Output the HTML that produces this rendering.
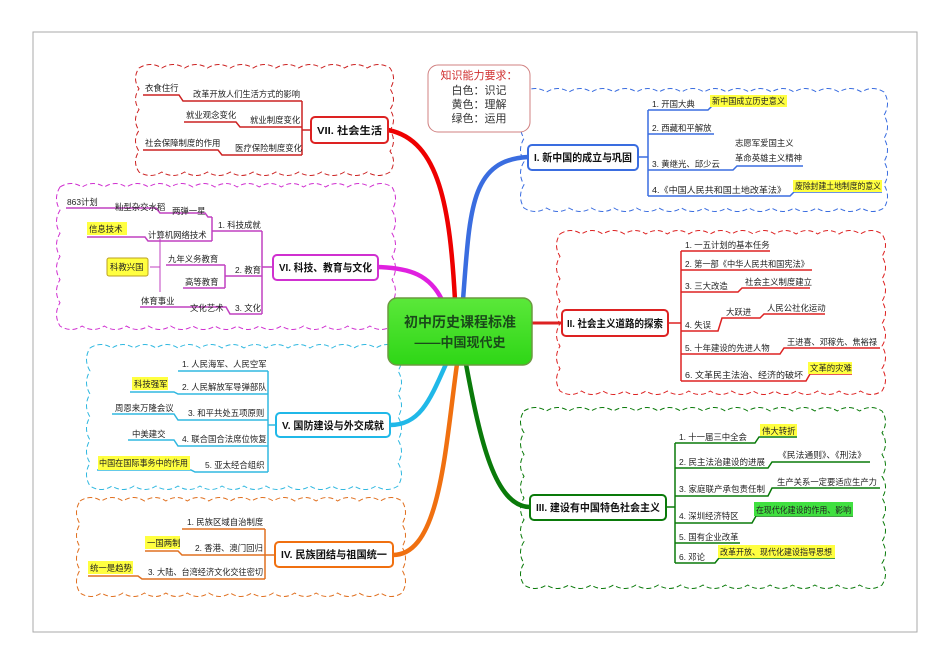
<!DOCTYPE html>
<html><head><meta charset="utf-8">
<style>
html,body{margin:0;padding:0;background:#fff;}
svg{display:block;font-family:"Liberation Sans","Noto Sans CJK SC",sans-serif;}
.t{font-size:8.4px;fill:#222;}
.b{font-size:10.5px;font-weight:bold;fill:#111;}
</style></head><body>
<svg id="s" width="950" height="672" viewBox="0 0 950 672" xmlns="http://www.w3.org/2000/svg">
<rect x="33" y="32" width="884" height="600" fill="#fff" stroke="#aaa" stroke-width="1"/>
<g id="clouds"></g>

<g fill="none" stroke-linecap="round">
<path d="M455 300 C450 210,440 140,388 130" stroke="#e00" stroke-width="4.5"/>
<path d="M463 300 C470 210,470 160,528 157" stroke="#3a6de0" stroke-width="4.5"/>
<path d="M442 300 C430 275,410 268,378 267" stroke="#e020e0" stroke-width="4.5"/>
<path d="M532 323 L562 323" stroke="#d22" stroke-width="3"/>
<path d="M446 364 C430 400,420 425,390 425" stroke="#20b8e8" stroke-width="4.5"/>
<path d="M457 364 C445 450,440 555,393 555" stroke="#f07010" stroke-width="4.5"/>
<path d="M466 364 C480 440,495 507,530 507" stroke="#0a7a0a" stroke-width="4.5"/>
</g>

<defs><linearGradient id="g" x1="0" y1="0" x2="0" y2="1"><stop offset="0" stop-color="#5be83a"/><stop offset="1" stop-color="#2ed616"/></linearGradient></defs>
<rect x="388" y="298" width="144" height="67" rx="9" fill="url(#g)" stroke="#6b9a40" stroke-width="1.5"/>
<text x="460" y="327" text-anchor="middle" style="font-size:14px;font-weight:bold;fill:#1a4a1a">初中历史课程标准</text>
<text x="460" y="347" text-anchor="middle" style="font-size:13px;font-weight:bold;fill:#1a4a1a">——中国现代史</text>

<rect x="428" y="65" width="102" height="67" rx="10" fill="#fff" stroke="#d08080" stroke-width="1"/>
<text x="479" y="79" text-anchor="middle" style="font-size:11px;fill:#d03030">知识能力要求：</text>
<text x="479" y="94" text-anchor="middle" style="font-size:11px;fill:#333">白色：识记</text>
<text x="479" y="108" text-anchor="middle" style="font-size:11px;fill:#333">黄色：理解</text>
<text x="479" y="122" text-anchor="middle" style="font-size:11px;fill:#333">绿色：运用</text>

<!-- Branch I -->
<rect x="528" y="145" width="110" height="25" rx="4" fill="#fff" stroke="#3a6de0" stroke-width="2"/>
<text x="534" y="161" class="b" textLength="98" lengthAdjust="spacingAndGlyphs">I. 新中国的成立与巩固</text>
<g stroke="#3a6de0" stroke-width="1.5" fill="none">
<path d="M638 157 H648 M648 110 V196 M648 110 H708 L712 106 H787 M648 134 H714 M648 170 H733 L737 166 H803 M648 196 H790 L794 192 H882"/>
</g>
<rect x="710" y="95" width="77" height="12" fill="#ffff40"/>
<rect x="793" y="180" width="89" height="12" fill="#ffff40"/>
<text x="652" y="107" class="t">1. 开国大典</text>
<text x="712" y="104" class="t" textLength="73" lengthAdjust="spacingAndGlyphs">新中国成立历史意义</text>
<text x="652" y="131" class="t">2. 西藏和平解放</text>
<text x="735" y="146" class="t">志愿军爱国主义</text>
<text x="735" y="161" class="t">革命英雄主义精神</text>
<text x="652" y="167" class="t">3. 黄继光、邱少云</text>
<text x="652" y="193" class="t" textLength="134" lengthAdjust="spacingAndGlyphs">4.《中国人民共和国土地改革法》</text>
<text x="795" y="189" class="t" textLength="86" lengthAdjust="spacingAndGlyphs">废除封建土地制度的意义</text>

<!-- Branch II -->
<rect x="562" y="310" width="106" height="26" rx="4" fill="#fff" stroke="#d22" stroke-width="2"/>
<text x="567" y="327" class="b" textLength="96" lengthAdjust="spacingAndGlyphs">II. 社会主义道路的探索</text>
<g stroke="#d22" stroke-width="1.5" fill="none">
<path d="M668 323 H681 M681 251 V381 M681 251 H770 M681 270 H812 M681 292 H738 L742 288 H810 M681 331 H718 L722 318 H760 L764 314 H825 M681 354 H780 L784 348 H880 M681 381 H806 L810 374 H852"/>
</g>
<rect x="808" y="362" width="44" height="12" fill="#ffff40"/>
<text x="685" y="248" class="t">1. 一五计划的基本任务</text>
<text x="685" y="267" class="t" textLength="124" lengthAdjust="spacingAndGlyphs">2. 第一部《中华人民共和国宪法》</text>
<text x="685" y="289" class="t">3. 三大改造</text>
<text x="745" y="285" class="t">社会主义制度建立</text>
<text x="685" y="328" class="t">4. 失误</text>
<text x="726" y="315" class="t">大跃进</text>
<text x="767" y="311" class="t">人民公社化运动</text>
<text x="685" y="351" class="t">5. 十年建设的先进人物</text>
<text x="787" y="345" class="t" textLength="90" lengthAdjust="spacingAndGlyphs">王进喜、邓稼先、焦裕禄</text>
<text x="685" y="378" class="t" textLength="118" lengthAdjust="spacingAndGlyphs">6. 文革民主法治、经济的破坏</text>
<text x="810" y="371" class="t">文革的灾难</text>

<!-- Branch III -->
<rect x="530" y="495" width="136" height="25" rx="4" fill="#fff" stroke="#0a7a0a" stroke-width="2"/>
<text x="536" y="511" class="b" textLength="124" lengthAdjust="spacingAndGlyphs">III. 建设有中国特色社会主义</text>
<g stroke="#0a7a0a" stroke-width="1.5" fill="none">
<path d="M666 507 H675 M675 443 V563 M675 443 H755 L759 437 H797 M675 468 H768 L772 462 H870 M675 496 H768 L772 488 H880 M675 523 H752 L756 516 H853 M675 543 H740 M675 563 H715 L719 558 H835"/>
</g>
<rect x="760" y="424" width="37" height="12" fill="#ffff40"/>
<rect x="754" y="502" width="99" height="14" fill="#40e040"/>
<rect x="718" y="545" width="117" height="13" fill="#ffff40"/>
<text x="679" y="440" class="t">1. 十一届三中全会</text>
<text x="762" y="434" class="t">伟大转折</text>
<text x="679" y="465" class="t" textLength="86" lengthAdjust="spacingAndGlyphs">2. 民主法治建设的进展</text>
<text x="778" y="458" class="t" textLength="88" lengthAdjust="spacingAndGlyphs">《民法通则》、《刑法》</text>
<text x="679" y="492" class="t" textLength="86" lengthAdjust="spacingAndGlyphs">3. 家庭联产承包责任制</text>
<text x="777" y="485" class="t" textLength="100" lengthAdjust="spacingAndGlyphs">生产关系一定要适应生产力</text>
<text x="679" y="519" class="t">4. 深圳经济特区</text>
<text x="756" y="513" class="t" textLength="95" lengthAdjust="spacingAndGlyphs">在现代化建设的作用、影响</text>
<text x="679" y="540" class="t">5. 国有企业改革</text>
<text x="679" y="560" class="t">6. 邓论</text>
<text x="720" y="555" class="t" textLength="112" lengthAdjust="spacingAndGlyphs">改革开放、现代化建设指导思想</text>

<!-- Branch VII -->
<rect x="311" y="117" width="77" height="26" rx="4" fill="#fff" stroke="#d22" stroke-width="2"/>
<text x="317" y="134" class="b" textLength="65" lengthAdjust="spacingAndGlyphs">VII. 社会生活</text>
<g stroke="#c22" stroke-width="1.5" fill="none">
<path d="M311 130 H302 M302 101 V155 M302 101 H183 L179 95 H143 M302 127 H240 L236 122 H184 M302 155 H222 L218 150 H143"/>
</g>
<text x="145" y="91" class="t">衣食住行</text>
<text x="193" y="97" class="t" textLength="107" lengthAdjust="spacingAndGlyphs">改革开放人们生活方式的影响</text>
<text x="186" y="118" class="t">就业观念变化</text>
<text x="250" y="123" class="t">就业制度变化</text>
<text x="145" y="146" class="t">社会保障制度的作用</text>
<text x="235" y="151" class="t">医疗保险制度变化</text>

<!-- Branch VI -->
<rect x="273" y="255" width="105" height="25" rx="4" fill="#fff" stroke="#d030d0" stroke-width="2"/>
<text x="279" y="271" class="b" textLength="93" lengthAdjust="spacingAndGlyphs">VI. 科技、教育与文化</text>
<g stroke="#c040c0" stroke-width="1.5" fill="none">
<path d="M273 267 H262 M262 231 V314 M262 231 H212 M212 217 V241 M212 217 H208 L205 213 H160 L156 208 H66 M212 241 H148 L145 237 H87 M262 276 H225 M225 265 V288 M225 265 H166 M225 288 H183 M262 314 H230 L226 307 H140"/>
<path d="M160 238 V292 M150 267 H160" stroke-width="1"/>
</g>
<rect x="87" y="222" width="40" height="13" fill="#ffff40"/>
<rect x="107" y="258" width="41" height="18" rx="2" fill="#ffff40" stroke="#bba020" stroke-width="1"/>
<text x="67" y="205" class="t">863计划</text>
<text x="115" y="210" class="t">籼型杂交水稻</text>
<text x="172" y="214" class="t">两弹一星</text>
<text x="218" y="228" class="t">1. 科技成就</text>
<text x="89" y="232" class="t">信息技术</text>
<text x="148" y="238" class="t">计算机网络技术</text>
<text x="110" y="270" class="t">科教兴国</text>
<text x="168" y="262" class="t">九年义务教育</text>
<text x="185" y="285" class="t">高等教育</text>
<text x="235" y="273" class="t">2. 教育</text>
<text x="141" y="304" class="t">体育事业</text>
<text x="190" y="311" class="t">文化艺术</text>
<text x="235" y="311" class="t">3. 文化</text>

<!-- Branch V -->
<rect x="276" y="413" width="114" height="24" rx="4" fill="#fff" stroke="#20b8e8" stroke-width="2"/>
<text x="282" y="429" class="b" textLength="102" lengthAdjust="spacingAndGlyphs">V. 国防建设与外交成就</text>
<g stroke="#30b8e0" stroke-width="1.5" fill="none">
<path d="M276 425 H268 M268 371 V472 M268 371 H178 M268 394 H178 L174 392 H130 M268 420 H178 L174 414 H112 M268 446 H178 L174 440 H128 M268 472 H195 L191 470 H97"/>
</g>
<rect x="132" y="377" width="36" height="13" fill="#ffff40"/>
<rect x="98" y="456" width="92" height="14" fill="#ffff40"/>
<text x="182" y="367" class="t">1. 人民海军、人民空军</text>
<text x="182" y="390" class="t">2. 人民解放军导弹部队</text>
<text x="134" y="387" class="t">科技强军</text>
<text x="188" y="416" class="t">3. 和平共处五项原则</text>
<text x="115" y="411" class="t">周恩来万隆会议</text>
<text x="182" y="442" class="t">4. 联合国合法席位恢复</text>
<text x="132" y="437" class="t">中美建交</text>
<text x="205" y="468" class="t">5. 亚太经合组织</text>
<text x="99" y="466" class="t" textLength="89" lengthAdjust="spacingAndGlyphs">中国在国际事务中的作用</text>

<!-- Branch IV -->
<rect x="275" y="542" width="118" height="25" rx="4" fill="#fff" stroke="#f07010" stroke-width="2"/>
<text x="281" y="558" class="b" textLength="106" lengthAdjust="spacingAndGlyphs">IV. 民族团结与祖国统一</text>
<g stroke="#e07020" stroke-width="1.5" fill="none">
<path d="M275 555 H265 M265 529 V579 M265 529 H182 M265 555 H182 L178 551 H145 M265 579 H142 L138 576 H88"/>
</g>
<rect x="145" y="536" width="35" height="13" fill="#ffff40"/>
<rect x="88" y="561" width="45" height="13" fill="#ffff40"/>
<text x="187" y="525" class="t">1. 民族区域自治制度</text>
<text x="195" y="551" class="t">2. 香港、澳门回归</text>
<text x="147" y="546" class="t">一国两制</text>
<text x="148" y="575" class="t" textLength="115" lengthAdjust="spacingAndGlyphs">3. 大陆、台湾经济文化交往密切</text>
<text x="90" y="571" class="t">统一是趋势</text>
</svg>
<script>
function cloud(x,y,w,h,c){
  var st=22,b=7,d="M"+x+" "+y;
  function edge(x1,y1,x2,y2){
    var L=Math.hypot(x2-x1,y2-y1),n=Math.max(1,Math.round(L/st));
    var dx=(x2-x1)/n,dy=(y2-y1)/n,l=Math.hypot(dx,dy);
    var nx=dy/l,ny=-dx/l,s="";
    for(var i=0;i<n;i++){
      var ax=x1+dx*i,ay=y1+dy*i;
      var cx=ax+dx/2+nx*b,cy=ay+dy/2+ny*b;
      s+=" Q"+cx.toFixed(1)+" "+cy.toFixed(1)+" "+(ax+dx).toFixed(1)+" "+(ay+dy).toFixed(1);
    }
    return s;
  }
  d+=edge(x,y,x+w,y)+edge(x+w,y,x+w,y+h)+edge(x+w,y+h,x,y+h)+edge(x,y+h,x,y)+"Z";
  var p=document.createElementNS("http://www.w3.org/2000/svg","path");
  p.setAttribute("d",d);p.setAttribute("fill","none");p.setAttribute("stroke",c);
  p.setAttribute("stroke-width","1");p.setAttribute("stroke-dasharray","5 3");
  document.getElementById("clouds").appendChild(p);
}
cloud(524,92,360,116,"#3a6de0");
cloud(560,234,322,157,"#d22");
cloud(524,411,358,174,"#0a7a0a");
cloud(139,68,251,104,"#c22");
cloud(60,187,332,139,"#d030d0");
cloud(90,348,308,138,"#30b8e0");
cloud(80,501,322,92,"#e07020");
</script>
</body></html>
